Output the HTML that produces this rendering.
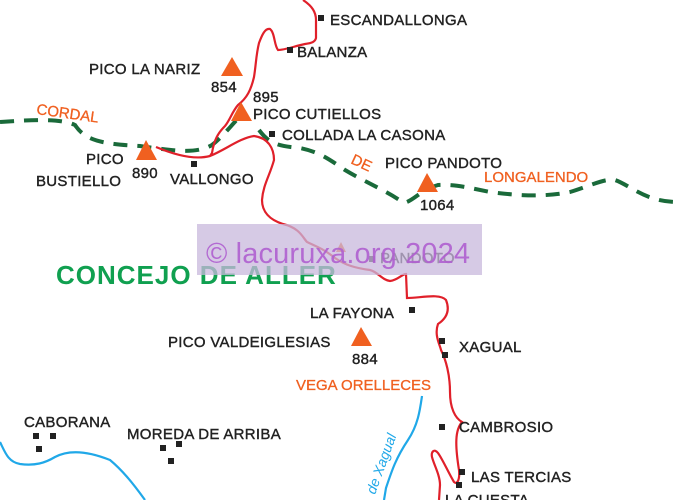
<!DOCTYPE html>
<html><head><meta charset="utf-8"><style>
html,body{margin:0;padding:0;background:#fff;width:678px;height:500px;overflow:hidden}
svg{display:block}
text{font-family:"Liberation Sans",sans-serif;}
.b{font-size:15px;fill:#222;letter-spacing:0.3px;stroke:#222;stroke-width:0.4}
.o{font-size:15px;fill:#f06020;stroke:#f06020;stroke-width:0.3}
</style></head><body>
<svg width="678" height="500" viewBox="0 0 678 500" xmlns="http://www.w3.org/2000/svg">
<path d="M0,122 C30,120 60,118 75,125 C85,140 100,144 140,146 C170,150 195,155 212,145 C225,135 235,120 245,112 M259,130 C268,142 275,146 300,148 C320,152 330,160 345,170 C365,182 385,190 404,203 C415,200 420,190 438,185 C455,184 470,188 490,192 C520,196 545,197 570,192 C590,186 605,178 615,180 C630,185 645,202 678,202" fill="none" stroke="#1a6a3a" stroke-width="4" stroke-dasharray="14,10"/>
<path d="M303,0 C312,6 316,12 316,20 L316,38 C315,42 312,43 305,44 C295,46 285,50 278,50 C274,45 275,33 270,29 C265,28 262,35 259,43 C256,55 256,65 254,77 C251,90 247,98 238,105 C232,112 230,120 225,126 C218,133 214,140 212,153 L210,156" fill="none" stroke="#e0202a" stroke-width="2.2"/>
<path d="M156,147 C175,155 195,160 210,156 C225,150 240,138 254,136 C268,138 274,148 274,160 C270,175 263,185 262,200 C262,212 270,220 283,224 C300,228 303,238 307,242 C318,247 325,250 335,258 C345,265 355,268 370,270 C378,272 382,280 390,281 C398,280 402,274 406,274 L407,298 C420,298 440,293 446,300 C450,310 447,318 438,324 C434,335 440,345 441,350 C446,360 450,375 450,392 C450,408 455,418 462,422 C455,430 455,445 459,470 C460,480 457,485 454,482 C448,472 443,460 438,453 C434,448 431,452 432,457 C434,465 440,475 440,485 L439,500" fill="none" stroke="#e0202a" stroke-width="2.2"/>
<path d="M0,442 C5,452 8,462 20,464 C35,466 45,463 55,457 C70,449 90,452 110,460 C122,470 132,482 145,500" fill="none" stroke="#20a8e8" stroke-width="2.2"/>
<path d="M422,396 C420,410 418,425 408,440 C396,458 392,470 386,488 L384,500" fill="none" stroke="#20a8e8" stroke-width="2.2"/>
<polygon points="232,57 221,76 243,76" fill="#f06020"/>
<polygon points="241,102 231,121 252,121" fill="#f06020"/>
<polygon points="146,140 136,160 157,160" fill="#f06020"/>
<polygon points="427,173 417,192 438,192" fill="#f06020"/>
<polygon points="361,327 351,346 372,346" fill="#f06020"/>
<polygon points="341,242 336,252 346,252" fill="#f06020"/>
<g fill="#222">
<rect x="318" y="15" width="6" height="6"/>
<rect x="287" y="47" width="6" height="6"/>
<rect x="269" y="131" width="6" height="6"/>
<rect x="191" y="161" width="6" height="6"/>
<rect x="369" y="256" width="6" height="6"/>
<rect x="409" y="307" width="6" height="6"/>
<rect x="439" y="338" width="6" height="6"/>
<rect x="442" y="352" width="6" height="6"/>
<rect x="439" y="424" width="6" height="6"/>
<rect x="459" y="469" width="6" height="6"/>
<rect x="456" y="482" width="6" height="6"/>
<rect x="33" y="433" width="6" height="6"/>
<rect x="50" y="433" width="6" height="6"/>
<rect x="36" y="446" width="6" height="6"/>
<rect x="160" y="445" width="6" height="6"/>
<rect x="176" y="441" width="6" height="6"/>
<rect x="168" y="458" width="6" height="6"/>
</g>
<text class="b" x="330" y="25">ESCANDALLONGA</text>
<text class="b" x="297" y="57">BALANZA</text>
<text class="b" x="89" y="74">PICO LA NARIZ</text>
<text class="b" x="211" y="92">854</text>
<text class="b" x="253" y="102">895</text>
<text class="b" x="253" y="119">PICO CUTIELLOS</text>
<text class="b" x="282" y="140">COLLADA LA CASONA</text>
<text class="b" x="86" y="164">PICO</text>
<text class="b" x="36" y="186">BUSTIELLO</text>
<text class="b" x="132" y="178">890</text>
<text class="b" x="170" y="184">VALLONGO</text>
<text class="b" x="385" y="168">PICO PANDOTO</text>
<text class="b" x="420" y="210">1064</text>
<text class="o" x="36" y="114" transform="rotate(8 36 114)">CORDAL</text>
<text class="o" x="350" y="163" transform="rotate(25 350 163)">DE</text>
<text class="o" x="484" y="182">LONGALENDO</text>
<text class="b" x="380" y="263">PANDOTO</text>
<text x="56" y="284" style="font-size:26px;font-weight:bold;fill:#10a050;letter-spacing:1px">CONCEJO DE ALLER</text>
<text class="b" x="310" y="318">LA FAYONA</text>
<text class="b" x="168" y="347">PICO VALDEIGLESIAS</text>
<text class="b" x="352" y="364">884</text>
<text class="b" x="459" y="352">XAGUAL</text>
<text class="o" x="296" y="390">VEGA ORELLECES</text>
<text class="b" x="459" y="432">CAMBROSIO</text>
<text class="b" x="471" y="482">LAS TERCIAS</text>
<text class="b" x="445" y="505">LA CUESTA</text>
<text class="b" x="24" y="427">CABORANA</text>
<text class="b" x="127" y="439">MOREDA DE ARRIBA</text>
<text x="0" y="0" transform="translate(375,495) rotate(-70)" style="font-size:14px;fill:#20a8e8;font-style:italic">de  Xagual</text>
<rect x="197" y="224" width="285" height="51" fill="#c8b8dc" opacity="0.75"/>
<text x="206" y="263" style="font-size:29px;fill:#b060d0;opacity:0.9" textLength="264">© lacuruxa.org 2024</text>
</svg>
</body></html>
